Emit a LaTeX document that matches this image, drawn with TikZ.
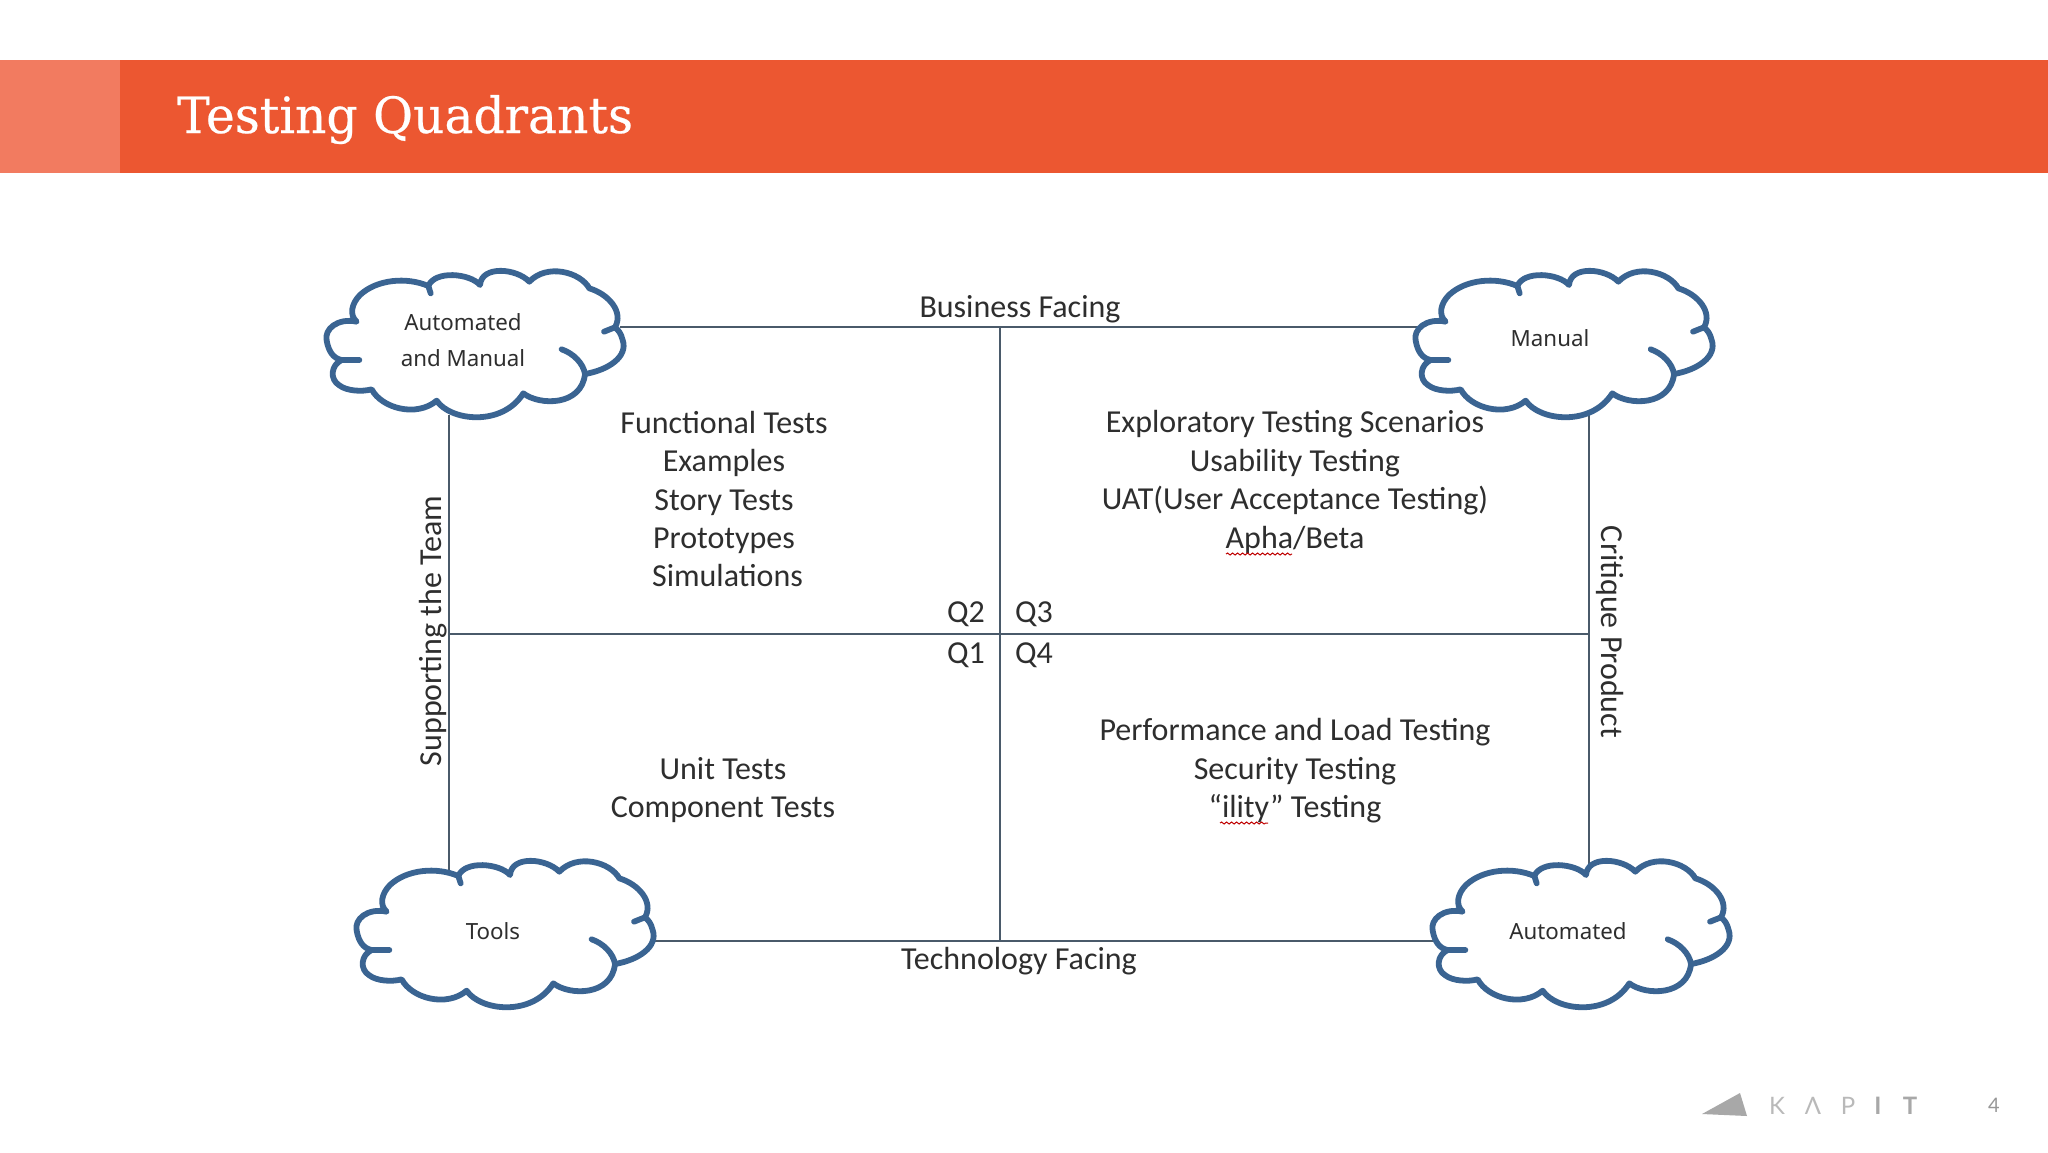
\documentclass[tikz,border=0pt]{standalone}
\usepackage{fontspec}
\usetikzlibrary{decorations.pathmorphing}
\setmainfont{Carlito}
\newfontfamily\titlefont[FakeStretch=0.975,FakeBold=0.4]{DejaVu Serif}
\newfontfamily\cloudfont{Noto Sans}
\newfontfamily\logofont{Lato}
\definecolor{bandmain}{HTML}{EC5731}
\definecolor{bandlight}{HTML}{F27B60}
\definecolor{quadline}{HTML}{4A5A6A}
\definecolor{cloudedge}{HTML}{3A6492}
\definecolor{inktext}{HTML}{2E2E2E}
\definecolor{logogrey}{HTML}{A8A8A8}
\tikzset{
  x=1pt,y=-1pt,
  quadline/.style={draw=quadline,line width=2pt},
  quadtext/.style={inner sep=0pt,align=center,text=inktext,font=\fontsize{32}{38.4}\selectfont},
  cloudtext/.style={inner sep=0pt,align=center,text=inktext,font=\cloudfont\fontsize{22.3}{36}\selectfont},
  squiggle/.style={draw=red!75!black,line width=1pt,decorate,decoration={snake,amplitude=1pt,segment length=5pt}},
  logoletter/.style={inner sep=0pt,font=\logofont\fontsize{24}{24}\selectfont,text=logogrey!80},
  logobold/.style={inner sep=0pt,font=\logofont\bfseries\fontsize{24}{24}\selectfont,text=logogrey},
  cloudpic/.pic={
    \begin{scope}[x=.33333pt,y=-.33333pt,line width=5.8pt,line cap=round,line join=round]
    \path[fill=white,draw=cloudedge] (170,215)
      .. controls (112,203) and (72,238) .. (80,272)
      .. controls (86,305) and (100,325) .. (125,330)
      .. controls (93,345) and (88,388) .. (118,406)
      .. controls (140,423) and (185,426) .. (215,418)
      .. controls (245,475) and (350,503) .. (410,452)
      .. controls (450,512) and (605,532) .. (670,430)
      .. controls (720,468) and (845,468) .. (855,372)
      .. controls (925,360) and (985,320) .. (968,270)
      .. controls (963,250) and (955,240) .. (945,232)
      .. controls (972,185) and (925,132) .. (868,115)
      .. controls (840,65) and (740,40) .. (688,95)
      .. controls (650,55) and (545,45) .. (540,105)
      .. controls (510,70) and (405,60) .. (385,108)
      .. controls (320,80) and (230,88) .. (180,135)
      .. controls (155,160) and (147,195) .. (170,215) -- cycle;
    \draw[cloudedge] (125,330) -- (178,330);
    \draw[cloudedge] (855,372) .. controls (850,340) and (820,310) .. (785,298);
    \draw[cloudedge] (945,232) -- (912,245);
    \draw[cloudedge] (385,108) -- (392,130);
    \end{scope}
  }
}
\begin{document}
\begin{tikzpicture}
\useasboundingbox[fill=white] (0,0) rectangle (2048,1152);
% header band
\fill[bandmain] (120,60) rectangle (2048,173);
\fill[bandlight] (0,60) rectangle (120,173);
\node[anchor=base west,inner sep=0pt,text=white,font=\titlefont\fontsize{50}{50}\selectfont] (title) at (177,133) {Testing Quadrants};
% connector ends
\coordinate (topA) at (620,327);
\coordinate (topB) at (1420,327);
\coordinate (topM) at (1000,327);
\coordinate (botA) at (650,941);
\coordinate (botB) at (1435,941);
\coordinate (botM) at (1000,941);
\coordinate (leftA) at (449,415);
\coordinate (leftB) at (449,880);
\coordinate (leftM) at (449,634);
\coordinate (rightA) at (1589,415);
\coordinate (rightB) at (1589,875);
\coordinate (rightM) at (1589,634);
\draw[quadline] (topA) -- (topB);
\draw[quadline] (botA) -- (botB);
\draw[quadline] (leftA) -- (leftB);
\draw[quadline] (rightA) -- (rightB);
\draw[quadline] (topM) -- (botM);
\draw[quadline] (leftM) -- (rightM);
% clouds
\pic at (300,250) {cloudpic};
\pic at (1389,250) {cloudpic};
\pic at (330,840) {cloudpic};
\pic at (1406,840) {cloudpic};
\node[cloudtext] (c1) at (463,340) {Automated\\and Manual};
\node[cloudtext] (c2) at (1550,338) {Manual};
\node[cloudtext] (c3) at (493,931) {Tools};
\node[cloudtext] (c4) at (1568,931) {Automated};
% axes labels
\node[quadtext] (business) at (1020,309) {Business Facing};
\node[quadtext] (technology) at (1019,961) {Technology Facing};
\node[quadtext,rotate=90] (support) at (433,631) {Supporting the Team};
\node[quadtext,rotate=-90] (critique) at (1610,632) {Critique Product};
% quadrant labels
\node[quadtext] (q2) at (966,614) {Q2};
\node[quadtext] (q3) at (1034,614) {Q3};
\node[quadtext] (q1) at (966,655) {Q1};
\node[quadtext] (q4) at (1034,655) {Q4};
% blocks
\node[quadtext] (blockA) at (724,499) {Functional Tests\\Examples\\Story Tests\\Prototypes\\\hspace*{7pt}Simulations};
\node[quadtext] (blockB) at (1295,482) {Exploratory Testing Scenarios\\Usability Testing\\UAT(User Acceptance Testing)\\Apha/Beta};
\node[quadtext] (blockC) at (1295,771) {Performance and Load Testing\\Security Testing\\“ility” Testing};
\node[quadtext] (blockD) at (723,790) {Unit Tests\\Component Tests};
% spelling marks
\draw[squiggle] (1226,554) -- (1292,554);
\draw[squiggle] (1220,823) -- (1268,823);
% footer logo
\fill[logogrey] (1702,1114) -- (1740,1093) -- (1747,1116) -- cycle;
\node[logoletter] (kK) at (1777,1106) {K};
\node[logoletter] (kA) at (1813,1106) {Λ};
\node[logoletter] (kP) at (1848,1106) {P};
\node[logobold] (kI) at (1878,1106) {I};
\node[logobold] (kT) at (1910,1106) {T};
\node[inner sep=0pt,font=\logofont\fontsize{20}{20}\selectfont,text=logogrey!90!black] (page) at (1994,1105) {4};
\end{tikzpicture}
\end{document}
